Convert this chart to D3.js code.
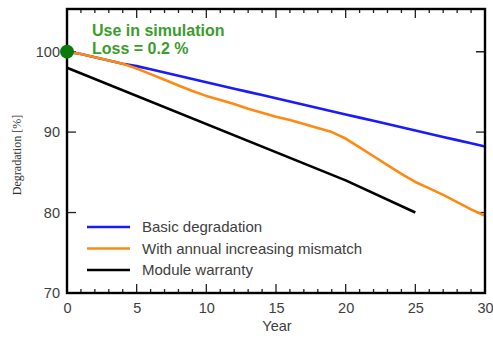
<!DOCTYPE html>
<html>
<head>
<meta charset="utf-8">
<script src="https://cdn.jsdelivr.net/npm/d3@7"></script>
<style>
  html, body { margin: 0; padding: 0; background: #fff; }
  svg { display: block; }
</style>
</head>
<body>
<svg id="chart" width="493" height="338"></svg>
<script>
// Years 0..30
const years = d3.range(0, 31);

// Basic degradation [%]
const basicValues = [100, 99.7, 99.3, 98.9, 98.5, 98.2, 97.8, 97.4, 97.0, 96.6, 96.2,
  95.8, 95.4, 95.0, 94.6, 94.2, 93.8, 93.4, 93.0, 92.6, 92.2,
  91.8, 91.4, 91.0, 90.6, 90.2, 89.8, 89.4, 89.0, 88.6, 88.2];

// With annual increasing mismatch [%]
const mismatchValues = [100, 99.7, 99.3, 98.9, 98.5, 97.9, 97.2, 96.5, 95.8, 95.1, 94.5,
  94.0, 93.5, 92.9, 92.4, 91.9, 91.5, 91.0, 90.5, 90.0, 89.2,
  88.1, 87.0, 85.9, 84.8, 83.8, 83.0, 82.2, 81.3, 80.4, 79.6];

// Module warranty [%]
const warrantyYears = [0, 20, 25];
const warrantyValues = [98, 84, 80];

// Simulation point
const simYear = [0];
const simValue = [100];

const xTicks = [0, 5, 10, 15, 20, 25, 30];
const yTicks = [70, 80, 90, 100];

const legendLabels = ["Basic degradation", "With annual increasing mismatch", "Module warranty"];
const noteLines = ["Use in simulation", "Loss = 0.2 %"];

const svg = d3.select("#chart");
const L = 67, R = 485, T = 9, B = 293;

const x = d3.scaleLinear().domain([0, 30]).range([L, R]);
const y = d3.scaleLinear().domain([70, 105.3]).range([B, T]);

const labelColor = "#404040";
const font = "'Liberation Sans', Arial, sans-serif";

// Minor and major ticks along bottom and top edges
const xMinor = d3.range(0, 31);
const tickG = svg.append("g").attr("stroke", "#222").attr("stroke-width", 1.3);
xMinor.forEach(v => {
  const len = v % 5 === 0 ? 9 : 4;
  tickG.append("line").attr("x1", x(v)).attr("x2", x(v)).attr("y1", B).attr("y2", B - len);
  tickG.append("line").attr("x1", x(v)).attr("x2", x(v)).attr("y1", T).attr("y2", T + len);
});
yTicks.concat([100]).forEach(v => {
  tickG.append("line").attr("x1", L).attr("x2", L + 9).attr("y1", y(v)).attr("y2", y(v));
  tickG.append("line").attr("x1", R).attr("x2", R - 9).attr("y1", y(v)).attr("y2", y(v));
});

// Axis tick labels via d3 axes
const xAxis = svg.append("g").attr("transform", `translate(0,${B})`)
  .call(d3.axisBottom(x).tickValues(xTicks).tickSize(0).tickPadding(10));
const yAxis = svg.append("g").attr("transform", `translate(${L},0)`)
  .call(d3.axisLeft(y).tickValues(yTicks).tickSize(0).tickPadding(7));
[xAxis, yAxis].forEach(g => {
  g.select(".domain").remove();
  g.selectAll("text").attr("fill", labelColor).attr("font-family", font).attr("font-size", 14.5);
});

// Series lines
const line = d3.line().x(d => x(d[0])).y(d => y(d[1]));
const series = [
  { vals: basicValues.map((v, i) => [years[i], v]), color: "#1a1aff" },
  { vals: warrantyValues.map((v, i) => [warrantyYears[i], v]), color: "#000000" },
  { vals: mismatchValues.map((v, i) => [years[i], v]), color: "#ff8a12" }
];
series.forEach(s => {
  svg.append("path").datum(s.vals).attr("d", line)
    .attr("fill", "none").attr("stroke", s.color).attr("stroke-width", 2.6)
    .attr("stroke-linejoin", "round").attr("stroke-linecap", "butt");
});

// Plot frame
svg.append("rect").attr("x", L).attr("y", T).attr("width", R - L).attr("height", B - T)
  .attr("fill", "none").attr("stroke", "#000").attr("stroke-width", 2.4);

// Simulation point and note
svg.selectAll(".sim").data(simYear).enter().append("circle")
  .attr("cx", d => x(d)).attr("cy", (d, i) => y(simValue[i])).attr("r", 7)
  .attr("fill", "#0a7a0a");
noteLines.forEach((t, i) => {
  svg.append("text").attr("x", 92).attr("y", 36 + i * 17.5).text(t)
    .attr("fill", "#3c9c2c").attr("font-family", font).attr("font-weight", "bold")
    .attr("font-size", 16);
});

// Legend
const legendColors = ["#1a1aff", "#ff8a12", "#000000"];
legendLabels.forEach((t, i) => {
  const yy = 227 + i * 21.5;
  svg.append("line").attr("x1", 87).attr("x2", 130).attr("y1", yy).attr("y2", yy)
    .attr("stroke", legendColors[i]).attr("stroke-width", 2.6);
  svg.append("text").attr("x", 142).attr("y", yy + 5).text(t)
    .attr("fill", labelColor).attr("font-family", font).attr("font-size", 15);
});

// Axis titles
svg.append("text").attr("x", (L + R) / 2 + 1).attr("y", 331).attr("text-anchor", "middle")
  .text("Year").attr("fill", labelColor).attr("font-family", font).attr("font-size", 14.5);
svg.append("text").attr("transform", "translate(21,155) rotate(-90)").attr("text-anchor", "middle")
  .text("Degradation [%]").attr("fill", "#333").attr("font-family", "'Liberation Serif', 'Times New Roman', serif")
  .attr("font-size", 12);
</script>
</body>
</html>
